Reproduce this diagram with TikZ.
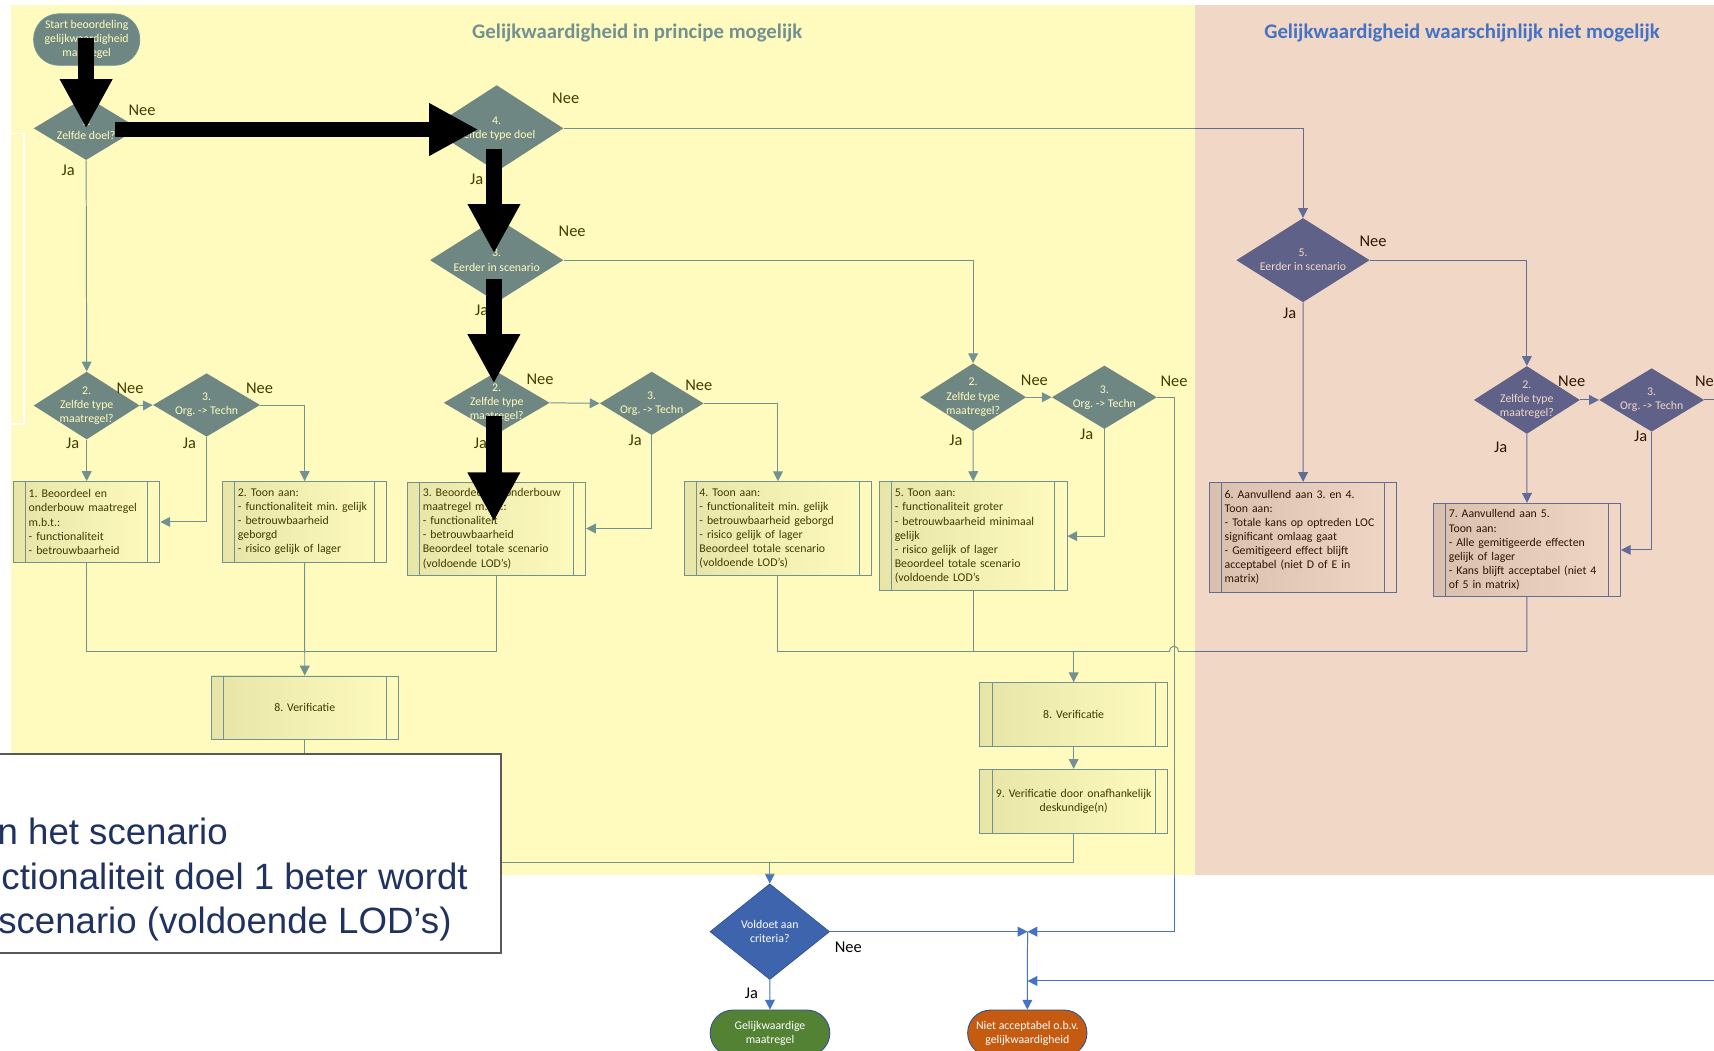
\documentclass[tikz,border=0pt]{standalone}
\usepackage{fontspec}
\setmainfont{Carlito}
\newfontfamily\arialfont{Liberation Sans}
\usetikzlibrary{arrows.meta,shapes.geometric}

\definecolor{flowblue}{HTML}{3F64AE}
\definecolor{lineblue}{HTML}{4472C4}
\definecolor{edgeblue}{HTML}{2F528F}
\definecolor{okgreen}{HTML}{548235}
\definecolor{notok}{HTML}{C55A11}
\definecolor{navy}{HTML}{1F3261}

\begin{document}
\frenchspacing
\begin{tikzpicture}[x=1pt, y=-1pt,
  txt/.style={font=\fontsize{10.8}{12.9}\selectfont},
  dec/.style={shape=diamond, fill=flowblue, inner sep=0pt},
  dtext/.style={txt, text=white, align=center},
  proc/.style={draw=lineblue, line width=0.8pt, left color=black!12, right color=white,
    txt, align=left, inner xsep=14pt, inner ysep=0pt},
  verif/.style={proc, align=center, inner xsep=4pt, text width=163pt},
  term/.style={rounded corners=21pt, txt, text=white, align=center, draw=edgeblue, line width=0.8pt},
  conn/.style={draw=lineblue, line width=0.9pt},
  arr/.style={conn, -{Triangle[length=9pt,width=9pt]}},
  yn/.style={font=\fontsize{15}{18}\selectfont, inner sep=0pt},
  bigarrow/.style={line width=14pt, -{Triangle[length=45pt,width=45pt]}}]

\useasboundingbox (0,0) rectangle (1568,961);
\clip (0,0) rectangle (1568,961);
\fill[white] (0,0) rectangle (1568,961);

% title under the yellow field
\node[font=\fontsize{19}{23}\selectfont\bfseries, text=lineblue] (title1) at (583,30.5) {Gelijkwaardigheid in principe mogelijk};

% start and first questions
\node[term, fill=flowblue, draw=lineblue, rounded corners=23pt, minimum width=97pt, minimum height=47pt] (start) at (79.3,36.2) {Start beoordeling\\gelijkwaardigheid\\maatregel};
\node[dec, minimum width=96pt, minimum height=58pt, label={[dtext]center:{1.\\Zelfde doel?}}] (d1) at (78.8,117.4) {};
\node[dec, minimum width=122pt, minimum height=79pt, label={[dtext]center:{4.\\Zelfde type doel}}] (d4) at (454.4,117.4) {};
\node[dec, minimum width=122pt, minimum height=77pt, label={[dtext]center:{3.\\Eerder in scenario}}] (d3) at (454.4,238) {};
\node[dec, minimum width=122pt, minimum height=77pt, label={[dtext]center:{5.\\Eerder in scenario}}] (d5) at (1192,238) {};

% second row of questions
\node[dec, minimum width=97pt, minimum height=62pt, label={[dtext]center:{2.\\Zelfde type\\maatregel?}}] (dA2) at (79.3,371) {};
\node[dec, minimum width=98pt, minimum height=58pt, label={[dtext]center:{3.\\Org. -> Techn}}] (dA3) at (189,370.5) {};
\node[dec, minimum width=97pt, minimum height=57pt, label={[dtext]center:{2.\\Zelfde type\\maatregel?}}] (dB2) at (454.4,368.5) {};
\node[dec, minimum width=95pt, minimum height=58pt, label={[dtext]center:{3.\\Org. -> Techn}}] (dB3) at (596.2,369) {};
\node[dec, minimum width=97pt, minimum height=62pt, label={[dtext]center:{2.\\Zelfde type\\maatregel?}}] (dC2) at (890.2,363.4) {};
\node[dec, minimum width=96pt, minimum height=58pt, label={[dtext]center:{3.\\Org. -> Techn}}] (dC3) at (1010.3,363.4) {};
\node[dec, minimum width=97pt, minimum height=62pt, label={[dtext]center:{2.\\Zelfde type\\maatregel?}}] (dD2) at (1396.8,365.9) {};
\node[dec, minimum width=96pt, minimum height=58pt, label={[dtext]center:{3.\\Org. -> Techn}}] (dD3) at (1511,365.9) {};

% process boxes
\node[proc, minimum width=134pt, minimum height=74pt, text width=106pt] (b1) at (79.3,477.5) {1. Beoordeel en\\onderbouw maatregel\\m.b.t.:\\- functionaliteit\\- betrouwbaarheid};
\node[proc, minimum width=150pt, minimum height=74pt, text width=122pt] (b2) at (278.7,477.5) {2. Toon aan:\\- functionaliteit min. gelijk\\- betrouwbaarheid\\geborgd\\- risico gelijk of lager};
\node[proc, minimum width=163pt, minimum height=85pt, text width=135pt] (b3) at (454.3,483.5) {3. Beoordeel en onderbouw\\maatregel m.b.t.:\\- functionaliteit\\- betrouwbaarheid\\Beoordeel totale scenario\\(voldoende LOD’s)};
\node[proc, minimum width=171.6pt, minimum height=86pt, text width=143.6pt] (b4) at (711.7,483.6) {4. Toon aan:\\- functionaliteit min. gelijk\\- betrouwbaarheid geborgd\\- risico gelijk of lager\\Beoordeel totale scenario\\(voldoende LOD’s)};
\node[proc, minimum width=171.5pt, minimum height=100pt, text width=143.5pt] (b5) at (890.3,490.5) {5. Toon aan:\\- functionaliteit groter\\- betrouwbaarheid minimaal\\gelijk\\- risico gelijk of lager\\Beoordeel totale scenario\\(voldoende LOD’s};
\node[proc, minimum width=171.4pt, minimum height=100.6pt, text width=143.4pt] (b6) at (1192.1,491.5) {6. Aanvullend aan 3. en 4.\\Toon aan:\\- Totale kans op optreden LOC\\significant omlaag gaat\\- Gemitigeerd effect blijft\\acceptabel (niet D of E in\\matrix)};
\node[proc, minimum width=171pt, minimum height=85.4pt, text width=143pt] (b7) at (1396.9,503.1) {7. Aanvullend aan 5.\\Toon aan:\\- Alle gemitigeerde effecten\\gelijk of lager\\- Kans blijft acceptabel (niet 4\\of 5 in matrix)};
\node[verif, minimum width=171pt, minimum height=58pt] (v8a) at (278.8,647.4) {8. Verificatie};
\node[verif, minimum width=171.5pt, minimum height=58.6pt] (v8b) at (982.2,653.8) {8. Verificatie};
\node[verif, minimum width=171.5pt, minimum height=58.5pt] (v9) at (982.2,733) {9. Verificatie door onafhankelijk\\deskundige(n)};
\foreach \b in {b1,b2,b3,b4,b5,b6,b7,v8a,v8b,v9}
  \draw[lineblue, line width=0.8pt] ([xshift=11.5pt]\b.north west) -- ([xshift=11.5pt]\b.south west)
    ([xshift=-11.5pt]\b.north east) -- ([xshift=-11.5pt]\b.south east);

% end of the flow
\node[dec, draw=edgeblue, line width=0.6pt, minimum width=109.5pt, minimum height=87.6pt, label={[dtext]center:{Voldoet aan\\criteria?}}] (dV) at (704.2,852.3) {};
\node[term, fill=okgreen, minimum width=109.5pt, minimum height=42pt] (tG) at (704.4,945) {Gelijkwaardige\\maatregel};
\node[term, fill=notok, minimum width=109.2pt, minimum height=42pt] (tN) at (939.8,945) {Niet acceptabel o.b.v.\\gelijkwaardigheid};

% connectors
\draw[arr] (start) -- (d1);
\draw[arr] (d1.east) -- (d4.west);
\draw[arr] (d4.south) -- (d3.north);
\draw[arr] (d4.east) -| (d5.north);
\draw[arr] (d3.east) -| (dC2.north);
\draw[arr] (d3.south) -- (dB2.north);
\draw[arr] (d1.south) -- (dA2.north);
\draw[arr] (dA2.east) -- (dA3.west);
\draw[arr] (dA2.south) -- (b1.north);
\draw[arr] (dA3.east) -| (b2.north);
\draw[arr] (dA3.south) |- (b1.east);
\draw[arr] (dB2.east) -- (dB3.west);
\draw[arr] (dB2.south) -- (b3.north);
\draw[arr] (dB3.east) -| (b4.north);
\draw[arr] (dB3.south) |- (b3.east);
\draw[arr] (dC2.east) -- (dC3.west);
\draw[arr] (dC2.south) -- (b5.north);
\draw[arr] (dC3.south) |- (b5.east);
\draw[arr] (d5.east) -| (dD2.north);
\draw[arr] (d5.south) -- (b6.north);
\draw[arr] (dD2.east) -- (dD3.west);
\draw[arr] (dD2.south) -- (b7.north);
\draw[arr] (dD3.south) |- (b7.east);
\coordinate (edgeD) at (1575,365.9);
\draw[conn] (dD3.east) -- (edgeD);

% merging lines
\coordinate (mA) at (278.7,596);
\draw[conn] (b1.south) |- (mA);
\draw[conn] (b3.south) |- (mA);
\draw[arr] (b2.south) -- (v8a.north);
\coordinate (mB) at (982.2,596);
\draw[conn] (b4.south) |- (mB);
\draw[conn] (b5.south) |- (mB);
\draw[conn] (b7.south) |- (1078,596) .. controls (1078,589.5) and (1070,589.5) .. (1070,596) -- (mB);
\draw[arr] (mB) -- (v8b.north);
\draw[arr] (v8b) -- (v9);
\coordinate (mC) at (704.2,789.2);
\draw[conn] (v9.south) |- (mC);
\draw[conn] (v8a.south) |- (mC);
\draw[arr] (mC) -- (dV.north);
\draw[arr] (dV.south) -- (tG.north);
\coordinate (jn) at (940,852.3);
\draw[arr] (dV.east) -- (jn);
\draw[arr] (dC3.east) -| (1074,852.3) -- (jn);
\draw[arr] (jn) -- (tN.north);
\coordinate (edgeR) at (1575,897.4);
\draw[arr] (edgeR) -- (jn |- edgeR);

% Ja / Nee
\node[yn] (nee1) at (130,100.6) {Nee};      \node[yn] (ja1) at (62.3,156) {Ja};
\node[yn] (nee4) at (517.5,90) {Nee};       \node[yn] (ja4) at (436,163.7) {Ja};
\node[yn] (nee3) at (523.4,212) {Nee};      \node[yn] (ja3) at (440.6,283.6) {Ja};
\node[yn] (neeA2) at (119,355) {Nee};       \node[yn] (jaA2) at (66.5,405.5) {Ja};
\node[yn] (neeA3) at (237.4,355) {Nee};     \node[yn] (jaA3) at (173.3,405.5) {Ja};
\node[yn] (neeB2) at (494,347) {Nee};       \node[yn] (jaB2) at (439.4,405.5) {Ja};
\node[yn] (neeB3) at (639.2,352.2) {Nee};   \node[yn] (jaB3) at (581.1,402.5) {Ja};
\node[yn] (neeC2) at (946.3,347.6) {Nee};   \node[yn] (jaC2) at (874.5,402.5) {Ja};
\node[yn] (neeC3) at (1074,349) {Nee};      \node[yn] (jaC3) at (994.2,397.3) {Ja};
\node[yn] (nee5) at (1256,221) {Nee};       \node[yn] (ja5) at (1179.8,286.6) {Ja};
\node[yn] (neeD2) at (1437.8,349) {Nee};    \node[yn] (jaD2) at (1372.9,409.2) {Ja};
\node[yn] (neeD3) at (1563,349) {Nee};      \node[yn] (jaD3) at (1501,398.8) {Ja};
\node[yn] (neeV) at (776,867) {Nee};        \node[yn] (jaV) at (687.4,908.7) {Ja};

% coloured fields laid over the flow
\fill[yellow, opacity=0.25] (10.5,4.6) rectangle (1093.2,800);
\fill[notok, opacity=0.24] (1093.2,4.6) rectangle (1575,800);
\node[font=\fontsize{19}{23}\selectfont\bfseries, text=lineblue] (title2) at (1337.5,30.5) {Gelijkwaardigheid waarschijnlijk niet mogelijk};
\draw[white, line width=1.2pt] (10.5,122) -- (22,122) -- (22,388) -- (10.5,388);

% text box in front
\draw[fill=white, draw=black!65, line width=1.3pt] (-5,689.8) rectangle (458.5,872);
\node[font=\arialfont\fontsize{33.5}{40}\selectfont, text=navy, anchor=base east, inner sep=0pt] (w1) at (208.5,773) {n het scenario};
\node[font=\arialfont\fontsize{33.5}{40}\selectfont, text=navy, anchor=base east, inner sep=0pt] (w2) at (428,813.6) {ctionaliteit doel 1 beter wordt};
\node[font=\arialfont\fontsize{33.5}{40}\selectfont, text=navy, anchor=base east, inner sep=0pt] (w3) at (413.3,853.8) {scenario (voldoende LOD’s)};

% black arrows
\draw[bigarrow] (78.8,35) -- (78.8,117.4);
\draw[bigarrow] (105,118.5) -- (437.6,118.5);
\draw[bigarrow] (451.9,136) -- (451.9,231.7);
\draw[bigarrow] (451.8,255.5) -- (451.8,350.7);
\draw[bigarrow] (451.8,380.5) -- (451.8,477.2);
\end{tikzpicture}
\end{document}
